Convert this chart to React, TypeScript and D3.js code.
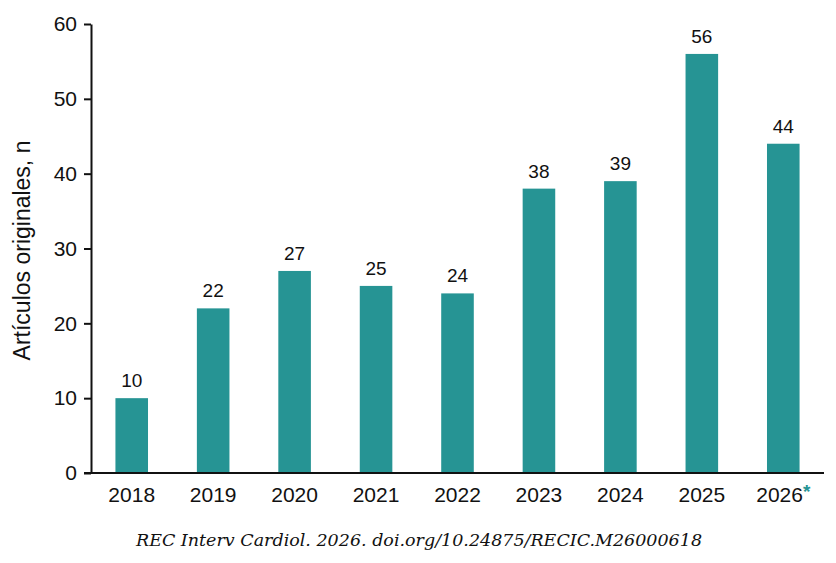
import React, { useEffect, useRef } from 'react';
import * as d3 from 'd3';

const years = ['2018', '2019', '2020', '2021', '2022', '2023', '2024', '2025', '2026'];
const articles = [10, 22, 27, 25, 24, 38, 39, 56, 44];
const yTicks = [0, 10, 20, 30, 40, 50, 60];
const yLabel = 'Artículos originales, n';
const caption = 'REC Interv Cardiol. 2026. doi.org/10.24875/RECIC.M26000618';

const W = 836;
const H = 563;
const TEAL = '#269494';
const FONT = '"Liberation Sans", Arial, Helvetica, sans-serif';

export default function App() {
  const svgRef = useRef<SVGSVGElement>(null);

  useEffect(() => {
    if (!svgRef.current) return;
    const svg = d3.select(svgRef.current);
    svg.selectAll('*').remove();

    const left = 91;
    const right = 824;
    const top = 24;
    const bottom = 473;

    const x = d3.scaleBand<string>().domain(years).range([left, right]).paddingInner(0.6).paddingOuter(0.3);
    const y = d3.scaleLinear().domain([0, 60]).range([bottom, top]);

    // bars
    svg.append('g')
      .selectAll('rect')
      .data(articles)
      .join('rect')
      .attr('x', (_, i) => x(years[i])!)
      .attr('y', (d) => y(d))
      .attr('width', x.bandwidth())
      .attr('height', (d) => y(0) - y(d))
      .attr('fill', TEAL);

    // value labels
    svg.append('g')
      .selectAll('text')
      .data(articles)
      .join('text')
      .attr('x', (_, i) => x(years[i])! + x.bandwidth() / 2)
      .attr('y', (d) => y(d) - 11)
      .attr('text-anchor', 'middle')
      .attr('font-family', FONT)
      .attr('font-size', 19)
      .attr('fill', '#111')
      .text((d) => d);

    // y axis
    const yAxis = svg.append('g')
      .attr('transform', `translate(${left},0)`)
      .call(d3.axisLeft(y).tickValues(yTicks).tickSize(7).tickSizeOuter(0).tickPadding(7));
    yAxis.select('.domain').attr('stroke', '#111').attr('stroke-width', 2);
    yAxis.selectAll('.tick line').attr('stroke', '#111').attr('stroke-width', 2);
    yAxis.selectAll('.tick text')
      .attr('font-family', FONT)
      .attr('font-size', 21)
      .attr('fill', '#111');

    // x axis line
    svg.append('line')
      .attr('x1', left - 7)
      .attr('x2', right)
      .attr('y1', bottom)
      .attr('y2', bottom)
      .attr('stroke', '#111')
      .attr('stroke-width', 2);

    // x labels
    const xl = svg.append('g')
      .selectAll('text')
      .data(years)
      .join('text')
      .attr('x', (d) => x(d)! + x.bandwidth() / 2)
      .attr('y', bottom + 29)
      .attr('text-anchor', 'middle')
      .attr('font-family', FONT)
      .attr('font-size', 21)
      .attr('fill', '#111')
      .text((d) => d);
    xl.filter((d) => d === '2026')
      .append('tspan')
      .attr('fill', TEAL)
      .attr('font-size', 19)
      .attr('font-weight', 'bold')
      .attr('dy', -4)
      .text('*');

    // y label
    svg.append('text')
      .attr('transform', `translate(30,${(top + bottom) / 2 + 2}) rotate(-90)`)
      .attr('text-anchor', 'middle')
      .attr('font-family', FONT)
      .attr('font-size', 23)
      .attr('fill', '#111')
      .text(yLabel);

    // caption
    svg.append('text')
      .attr('x', 419)
      .attr('y', 546)
      .attr('text-anchor', 'middle')
      .attr('font-family', '"DejaVu Serif", serif')
      .attr('font-style', 'italic')
      .attr('font-size', 17.5)
      .attr('fill', '#111')
      .text(caption);
  }, []);

  return (
    <svg
      ref={svgRef}
      width={W}
      height={H}
      style={{ display: 'block', position: 'absolute', left: 0, top: 0, background: '#fff' }}
    />
  );
}
